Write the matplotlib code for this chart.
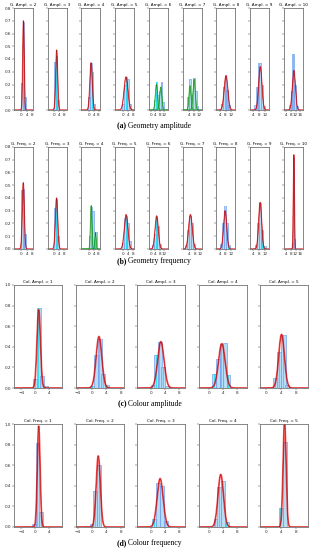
import numpy as np
import matplotlib
matplotlib.use("Agg")
import matplotlib.pyplot as plt

W, H = 312, 550

# ---- (a) geometry amplitude ----
ga_levels = [2, 3, 4, 5, 6, 7, 8, 9, 10]
ga_xlims = [(-5.5, 8.8), (-5.3, 10.4), (-6, 9.5), (-6, 9), (-2, 15.4), (-1, 14.2), (0.8, 15.5), (1.6, 14.4), (1.7, 18)]
ga_xticks = [[0, 4, 8], [0, 4, 8], [0, 4, 8], [0, 4, 8], [0, 4, 8, 12], [4, 8, 12], [4, 8, 12], [4, 8, 12], [4, 8, 12, 16]]
ga_bin_width = [1.3, 1.3, 1.3, 1.3, 1.5, 1.5, 1.5, 1.5, 1.5]
ga_bin_centers = [[0.3, 1.6, 2.9], [0.8, 2.1, 3.4], [0.4, 1.7, 3.0, 4.3], [0.4, 1.7, 3.0, 4.3, 5.6],
                  [3.5, 5, 6.5, 8, 9.5, 11], [3.5, 5, 6.5, 8, 9.5, 11], [5, 6.5, 8, 9.5, 11],
                  [5, 6.5, 8, 9.5, 11], [7, 8.5, 10, 11.5, 13]]
ga_bin_heights = [[0.21, 0.69, 0.10], [0.38, 0.42, 0.08], [0.10, 0.37, 0.30, 0.05], [0.05, 0.20, 0.26, 0.24, 0.05],
                  [0.08, 0.22, 0.12, 0.15, 0.22, 0.06], [0.10, 0.24, 0.12, 0.25, 0.15, 0.03],
                  [0.05, 0.18, 0.27, 0.16, 0.04], [0.04, 0.18, 0.37, 0.20, 0.03], [0.04, 0.15, 0.44, 0.20, 0.03]]
# fitted components: (centre, peak, width)
ga_fits = [[(1.6, 0.70, 0.55)], [(2.1, 0.47, 0.8)], [(1.9, 0.37, 1.0)], [(2.6, 0.26, 1.5)],
           [(5.0, 0.20, 1.0), (9.0, 0.18, 1.0)], [(5.0, 0.19, 0.8), (8.3, 0.24, 0.9)],
           [(8.4, 0.27, 1.4)], [(8.6, 0.34, 1.1)], [(10.5, 0.31, 1.3)]]
ga_fit_color = ["red", "red", "red", "red", "green", "green", "red", "red", "red"]

# ---- (b) geometry frequency ----
gf_levels = [2, 3, 4, 5, 6, 7, 8, 9, 10]
gf_xlims = [(-5.5, 8.8), (-5.3, 10.4), (-6, 9.5), (-6, 9), (-2, 15.4), (-1.3, 13.3), (0.8, 15.5), (1.6, 14.4), (1.7, 18)]
gf_xticks = [[0, 4, 8], [0, 4, 8], [0, 4, 8], [0, 4, 8], [0, 4, 8, 12], [4, 8, 12], [4, 8, 12], [4, 8, 12], [4, 8, 12, 16]]
gf_bin_width = [1.3, 1.3, 1.3, 1.3, 1.5, 1.5, 1.5, 1.5, 0.9]
gf_bin_centers = [[0.3, 1.6, 2.9], [0.8, 2.1, 3.4], [0.8, 2.1, 3.4, 4.7, 6.0], [0.4, 1.7, 3.0, 4.3, 5.6],
                  [2, 3.5, 5, 6.5, 8], [1.5, 3, 4.5, 6, 7.5], [4.5, 6, 7.5, 9, 10.5],
                  [5.5, 7, 8.5, 10, 11.5], [9.6, 10.5, 11.4]]
gf_bin_heights = [[0.46, 0.47, 0.12], [0.32, 0.39, 0.10], [0.10, 0.33, 0.30, 0.08, 0.13], [0.05, 0.24, 0.26, 0.20, 0.06],
                  [0.03, 0.12, 0.25, 0.18, 0.04], [0.03, 0.15, 0.26, 0.20, 0.04], [0.04, 0.20, 0.34, 0.20, 0.03],
                  [0.03, 0.20, 0.36, 0.15, 0.02], [0.05, 0.72, 0.08]]
gf_fits = [[(1.5, 0.52, 0.75)], [(2.0, 0.40, 0.95)], [(2.0, 0.34, 0.6), (5.5, 0.13, 0.5)], [(2.7, 0.27, 1.4)],
           [(5.2, 0.26, 1.5)], [(4.8, 0.27, 1.4)], [(7.7, 0.30, 1.2)], [(8.5, 0.365, 1.0)], [(10.5, 0.74, 0.45)]]
gf_fit_color = ["red", "red", "green", "red", "red", "red", "red", "red", "red"]

# ---- (c) colour amplitude ----
ca_levels = [1, 2, 3, 4, 5]
cd_xlims = [(-6.1, 7.7), (-4.7, 8.8), (-3.9, 9.6), (-3.0, 10.6), (-1.6, 11.1)]
ca_bin_centers = [[0, 1, 2, 3], [0, 1.1, 2.1, 3.1, 4.1], [0.5, 1.5, 2.5, 3.5, 4.5], [1.5, 2.5, 3.5, 4.5, 5.5], [2.5, 3.5, 4.6, 5.6]]
ca_bin_heights = [[0.09, 0.78, 0.12, 0.02], [0.02, 0.32, 0.48, 0.14, 0.03], [0.03, 0.32, 0.45, 0.20, 0.02],
                  [0.14, 0.28, 0.43, 0.44, 0.13], [0.10, 0.35, 0.51, 0.03]]
ca_fits = [(1.0, 0.76, 0.5), (1.9, 0.50, 0.8), (2.8, 0.45, 0.9), (3.6, 0.43, 0.93), (4.1, 0.52, 0.75)]

# ---- (d) colour frequency ----
cf_levels = [1, 2, 3, 4, 5]
cf_bin_centers = [[-0.45, 0.65, 1.75], [0, 0.9, 2.0], [0.95, 2.0, 3.15, 4.2], [1.8, 2.9, 3.95, 5.0], [3.9, 5.0]]
cf_bin_heights = [[0.03, 0.82, 0.15], [0.03, 0.35, 0.60], [0.08, 0.43, 0.40, 0.06], [0.08, 0.39, 0.45, 0.05], [0.18, 0.83]]
cf_fits = [(1.0, 0.98, 0.4), (1.7, 0.69, 0.58), (2.6, 0.47, 0.85), (3.3, 0.51, 0.78), (4.9, 1.02, 0.4)]

TICK_FS = 3
TITLE_FS = 3


def px_axes(fig, left, top, w, h):
    return fig.add_axes([left / W, 1 - (top + h) / H, w / W, h / H])


def style_axes(ax, xlim, ylim, xticks, yticks, show_ylabels, yfmt):
    ax.set_xlim(*xlim)
    ax.set_ylim(*ylim)
    ax.set_xticks([t for t in xticks if xlim[0] <= t <= xlim[1]])
    ax.set_yticks(yticks)
    if show_ylabels:
        ax.set_yticklabels([yfmt % v for v in yticks])
    else:
        ax.set_yticklabels([])
    ax.tick_params(labelsize=TICK_FS, length=1.2, width=0.3, pad=0.8, colors="0.15")
    for s in ax.spines.values():
        s.set_linewidth(0.6)
        s.set_color("0.45")


def draw_hist(ax, centers, heights, width, cyan_w):
    ax.bar(centers, heights, width=width, color="#a9d8f5", alpha=0.85,
           edgecolor="cornflowerblue", linewidth=0.5)
    ax.bar(centers, heights, width=cyan_w, color="#1ee3f5", alpha=0.85, linewidth=0)


def draw_fit(ax, xlim, mu, peak, sd, color, lw):
    x = np.linspace(xlim[0], xlim[1], 300)
    y = peak * np.exp(-0.5 * ((x - mu) / sd) ** 2)
    light = "red" if color == "red" else "limegreen"
    dark = "darkred" if color == "red" else "darkgreen"
    ax.plot(x, y, color=light, lw=lw, alpha=0.65)
    ax.plot(x, y, color=dark, lw=0.35, alpha=0.8)


fig = plt.figure(figsize=(W / 100, H / 100), dpi=100)

# rows (a) and (b): nine narrow panels each
small_rows = [
    ("G. Ampl.", ga_levels, ga_xlims, ga_xticks, ga_bin_width, ga_bin_centers, ga_bin_heights, ga_fits, ga_fit_color, 8),
    ("G. Freq.", gf_levels, gf_xlims, gf_xticks, gf_bin_width, gf_bin_centers, gf_bin_heights, gf_fits, gf_fit_color, 147),
]
for name, levels, xlims, xticks, bw, centers, heights, fits, fcol, top in small_rows:
    for i in range(9):
        ax = px_axes(fig, 14 + i * 33.7, top, 19, 102)
        draw_hist(ax, centers[i], heights[i], bw[i], bw[i] * 0.3)
        for mu, pk, sd in fits[i]:
            draw_fit(ax, xlims[i], mu, pk, sd, fcol[i], 0.9)
        style_axes(ax, xlims[i], (0, 0.8), xticks[i], np.round(np.arange(0, 0.81, 0.1), 1), i == 0, "%.1f")
        ax.set_title("%s = %d" % (name, levels[i]), fontsize=TITLE_FS, pad=1.5)

# rows (c) and (d): five wider panels each
big_rows = [
    ("Col. Ampl.", ca_levels, ca_bin_centers, ca_bin_heights, ca_fits, 285),
    ("Col. Freq.", cf_levels, cf_bin_centers, cf_bin_heights, cf_fits, 424),
]
for name, levels, centers, heights, fits, top in big_rows:
    for i in range(5):
        ax = px_axes(fig, 14 + i * 61.5, top, 48, 103)
        draw_hist(ax, centers[i], heights[i], 1.1, 0.18)
        mu, pk, sd = fits[i]
        draw_fit(ax, cd_xlims[i], mu, pk, sd, "red", 1.3)
        style_axes(ax, cd_xlims[i], (0, 1.0), [-4, 0, 4, 8], np.round(np.arange(0, 1.01, 0.2), 1), i == 0, "%.1f")
        ax.set_title("%s = %d" % (name, levels[i]), fontsize=TITLE_FS, pad=1.5)

captions = [("(a)", "Geometry amplitude", 126), ("(b)", "Geometry frequency", 261),
            ("(c)", "Colour amplitude", 404), ("(d)", "Colour frequency", 543)]
for tag, text, y in captions:
    fig.text(128 / W, 1 - y / H, tag + " ", ha="right", va="center", fontsize=5.5,
             family="Liberation Serif", fontweight="bold")
    fig.text(128 / W, 1 - y / H, text, ha="left", va="center", fontsize=5.5,
             family="Liberation Serif")

fig.savefig("out.png", dpi=100)
